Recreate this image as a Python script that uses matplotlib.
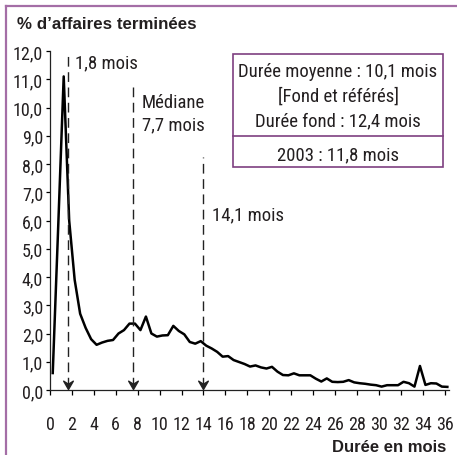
import numpy as np
import matplotlib.pyplot as plt
from matplotlib.path import Path
from matplotlib.patches import Rectangle
from matplotlib.lines import Line2D

# share of closed cases (%) by duration in months, half-month steps
months = np.arange(0.25, 36.3, 0.5)
pct = [0.6, 5.8, 11.1, 6.0, 3.9, 2.7, 2.2, 1.8, 1.6, 1.68,
       1.74, 1.77, 2.0, 2.12, 2.35, 2.35, 2.12, 2.6, 2.0, 1.89,
       1.93, 1.94, 2.27, 2.09, 1.97, 1.7, 1.64, 1.73, 1.57, 1.47,
       1.35, 1.18, 1.2, 1.06, 0.99, 0.92, 0.83, 0.87, 0.8, 0.76,
       0.82, 0.65, 0.53, 0.52, 0.59, 0.52, 0.52, 0.52, 0.4, 0.3,
       0.41, 0.29, 0.28, 0.29, 0.35, 0.27, 0.24, 0.22, 0.19, 0.17,
       0.12, 0.17, 0.17, 0.17, 0.29, 0.24, 0.12, 0.85, 0.18, 0.24,
       0.23, 0.12, 0.11]

yticks = np.arange(0, 13, 1)
xticks = np.arange(0, 37, 2)

# marker lines: position, top of line, label, label pos
marks_x = [1.6, 7.55, 14.0]
marks_top = [12.0, 10.9, 8.25]
mark_labels = ["1,8 mois", "Médiane\n7,7 mois", "14,1 mois"]
mark_label_xy = [(2.3, 11.6), (8.4, 9.8), (14.8, 6.23)]

box_lines = ["Durée moyenne : 10,1 mois", "[Fond et référés]",
             "Durée fond : 12,4 mois"]
box_last = "2003 : 11,8 mois"

W, H = 457, 456
narrow = ["Liberation Sans Narrow", "Roboto Condensed", "Liberation Sans"]
txt = "#231f20"
purple_frame = "#a46ea6"
purple_box = "#7e3f80"

fig = plt.figure(figsize=(W / 100, H / 100), dpi=100)
fx = lambda px: px / W
fy = lambda py: 1 - py / H

ax = fig.add_axes([fx(50), fy(391), fx(449) - fx(50), fy(52) - fy(391)])
ax.plot(months, pct, color="black", lw=1.8, solid_joinstyle="round", clip_on=False)
ax.set_xlim(0, 36.4)
ax.set_ylim(0, 12)

for s in ["top", "right"]:
    ax.spines[s].set_visible(False)
for s in ["left", "bottom"]:
    ax.spines[s].set_linewidth(0.9)
    ax.spines[s].set_color("#222222")

ax.set_yticks(yticks)
ax.set_yticklabels([f"{v:.1f}".replace(".", ",") for v in yticks],
                   fontfamily=narrow, fontsize=13, color=txt)
ax.set_xticks(xticks)
ax.set_xticklabels([str(v) for v in xticks], fontfamily=narrow,
                   fontsize=13, color=txt)
ax.tick_params(axis="y", direction="out", length=3, width=0.9, pad=2)
ax.tick_params(axis="x", direction="out", length=3.8, width=0.9, pad=14)

# arrowhead marker (tip at origin)
head = Path([(0, 0), (-0.55, 0.95), (0, 0.6), (0.55, 0.95), (0, 0)],
            [Path.MOVETO, Path.LINETO, Path.LINETO, Path.LINETO, Path.CLOSEPOLY])

for x, top, lab, (lx, ly) in zip(marks_x, marks_top, mark_labels, mark_label_xy):
    ax.plot([x, x], [0.1, top], color="#222222", lw=1.0,
            dashes=(7, 4), clip_on=False)
    ax.plot([x], [0.05], marker=head, markersize=12, color="#222222",
            clip_on=False)
    ax.text(lx, ly, lab, fontfamily=narrow, fontsize=13.5, color=txt,
            va="center", ha="left", linespacing=1.3)

fig.text(fx(17), fy(17), "% d’affaires terminées", fontweight="bold",
         fontsize=12.2, color=txt, va="top", ha="left",
         fontfamily="Liberation Sans")
fig.text(fx(446), fy(452), "Durée en mois", fontweight="bold",
         fontsize=12, color=txt, va="baseline", ha="right",
         fontfamily="Liberation Sans")

# info box
fig.add_artist(Rectangle((fx(233), fy(168)), fx(443) - fx(233),
                         fy(55) - fy(168), transform=fig.transFigure,
                         fill=False, edgecolor=purple_box, lw=1.2))
fig.add_artist(Line2D([fx(233), fx(443)], [fy(136.5), fy(136.5)],
                      transform=fig.transFigure, color=purple_box, lw=1.2))
for i, line in enumerate(box_lines):
    fig.text(fx(338), fy(72 + 24.5 * i), line, fontfamily=narrow,
             fontsize=13.5, color=txt, ha="center", va="center")
fig.text(fx(338), fy(155), box_last, fontfamily=narrow, fontsize=13.5,
         color=txt, ha="center", va="center")

# outer frame (left and top edges)
fig.add_artist(Line2D([fx(6), fx(6)], [fy(7), 0], transform=fig.transFigure,
                      color=purple_frame, lw=1.6))
fig.add_artist(Line2D([fx(6), 1], [fy(7), fy(7)], transform=fig.transFigure,
                      color=purple_frame, lw=1.6))

fig.savefig("out.png", dpi=100)
